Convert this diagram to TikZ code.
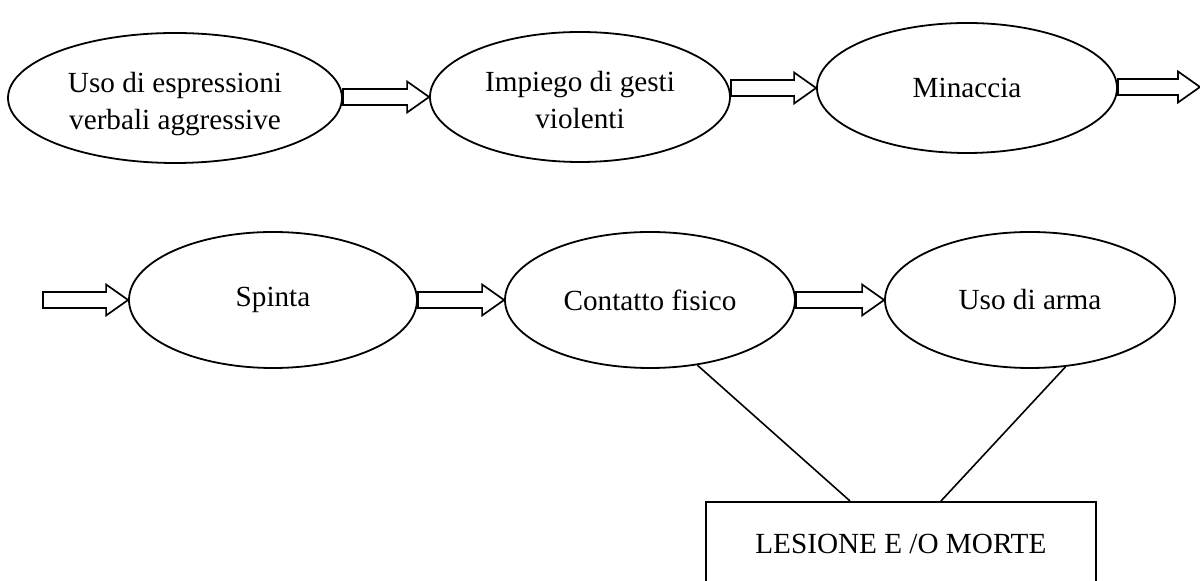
\documentclass[tikz,border=0pt]{standalone}
\usepackage{fontspec}
\setmainfont{Liberation Serif}
\usepackage{tikz}
\usetikzlibrary{shapes.geometric,calc}

% hollow block arrow from #1 to #2
\newcommand{\frecciona}[2]{%
  \draw[freccia] let \p1=(#1), \p2=(#2) in
    (\x1,\y2+4pt) -- (\x2-11pt,\y2+4pt) -- (\x2-11pt,\y2+7.75pt) -- (\x2,\y2)
    -- (\x2-11pt,\y2-7.75pt) -- (\x2-11pt,\y2-4pt) -- (\x1,\y2-4pt) -- cycle;}

\begin{document}
\begin{tikzpicture}[x=0.5pt,y=-0.5pt,
    tappa/.style={draw, ellipse, line width=0.9pt, inner sep=0pt, align=center,
      font=\fontsize{14.6}{18.5}\selectfont},
    duerighe/.style={text height=34pt, text depth=2pt},
    freccia/.style={draw, line width=0.85pt, line join=miter},
    legame/.style={draw, line width=0.8pt}]
  \clip (0,0) rectangle (1200,581);
  \fill[white] (0,0) rectangle (1200,581);

  % first row
  \node[tappa, duerighe, minimum width=167pt, minimum height=65pt] (verbali) at (175,98) {Uso di espressioni\\verbali aggressive};
  \node[tappa, duerighe, minimum width=150pt, minimum height=65pt] (gesti) at (580,97) {Impiego di gesti\\violenti};
  \node[tappa, minimum width=150pt, minimum height=65pt] (minaccia) at (967,88) {Minaccia};
  \coordinate (fuori) at (1200,87);

  % second row
  \coordinate (dentro) at (43,296);
  \node[tappa, minimum width=144pt, minimum height=68pt] (spinta) at (273,300) {Spinta};
  \node[tappa, minimum width=145pt, minimum height=68pt] (contatto) at (650,300) {Contatto fisico};
  \node[tappa, minimum width=145pt, minimum height=68pt] (arma) at (1030,300) {Uso di arma};

  \node[draw, rectangle, line width=0.9pt, anchor=north west, minimum width=195pt,
    minimum height=42pt, font=\fontsize{14.6}{18.5}\selectfont] (esito) at (705,501) {LESIONE E /O MORTE};

  \frecciona{verbali.east}{gesti.west}
  \frecciona{gesti.east}{minaccia.west}
  \frecciona{minaccia.east}{fuori}
  \frecciona{dentro}{spinta.west}
  \frecciona{spinta.east}{contatto.west}
  \frecciona{contatto.east}{arma.west}

  \draw[legame] (contatto.-54) -- ($(esito.north west)+(145,0)$);
  \draw[legame] (arma.-62) -- ($(esito.north west)+(236,0)$);
\end{tikzpicture}
\end{document}
